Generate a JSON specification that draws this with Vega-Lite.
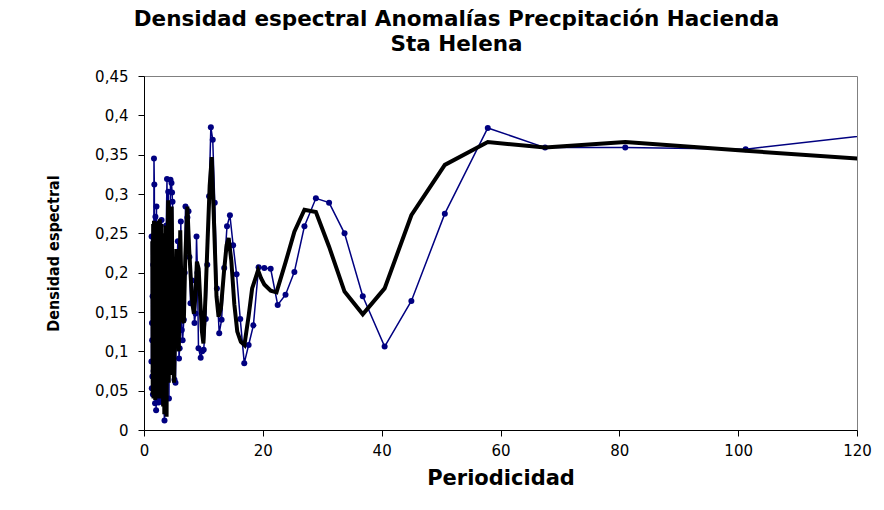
{
  "$schema": "https://vega.github.io/schema/vega-lite/v6.json",
  "width": 713,
  "height": 354,
  "autosize": {"type": "none"},
  "padding": {"left": 144, "top": 76, "right": 27, "bottom": 80},
  "background": "white",
  "title": {
    "text": ["Densidad espectral Anomalías Precpitación Hacienda", "Sta Helena"],
    "font": "DejaVu Sans",
    "fontSize": 21.5,
    "fontWeight": "bold",
    "color": "black",
    "anchor": "middle",
    "frame": "group",
    "dx": -44,
    "offset": 14,
    "lineHeight": 25
  },
  "config": {
    "view": {"stroke": "#808080", "strokeWidth": 1},
    "axis": {
      "grid": false,
      "domainColor": "black",
      "tickColor": "black",
      "labelColor": "black",
      "titleColor": "black",
      "labelFont": "DejaVu Sans",
      "labelFontSize": 15,
      "titleFont": "DejaVu Sans",
      "tickSize": 6,
      "domainWidth": 1,
      "labelFlush": false,
      "labelOverlap": false
    }
  },
  "datasets": {
    "espectro": [
      {"periodicidad": 1.25, "densidad": 0.087},
      {"periodicidad": 1.28, "densidad": 0.246},
      {"periodicidad": 1.31, "densidad": 0.053},
      {"periodicidad": 1.34, "densidad": 0.136},
      {"periodicidad": 1.37, "densidad": 0.114},
      {"periodicidad": 1.41, "densidad": 0.068},
      {"periodicidad": 1.45, "densidad": 0.17},
      {"periodicidad": 1.5, "densidad": 0.045},
      {"periodicidad": 1.56, "densidad": 0.21},
      {"periodicidad": 1.62, "densidad": 0.075},
      {"periodicidad": 1.68, "densidad": 0.345},
      {"periodicidad": 1.74, "densidad": 0.312},
      {"periodicidad": 1.8, "densidad": 0.12},
      {"periodicidad": 1.86, "densidad": 0.034},
      {"periodicidad": 1.92, "densidad": 0.271},
      {"periodicidad": 1.98, "densidad": 0.06},
      {"periodicidad": 2.04, "densidad": 0.025},
      {"periodicidad": 2.1, "densidad": 0.284},
      {"periodicidad": 2.17, "densidad": 0.05},
      {"periodicidad": 2.24, "densidad": 0.225},
      {"periodicidad": 2.31, "densidad": 0.04},
      {"periodicidad": 2.38, "densidad": 0.19},
      {"periodicidad": 2.46, "densidad": 0.035},
      {"periodicidad": 2.54, "densidad": 0.24},
      {"periodicidad": 2.62, "densidad": 0.05},
      {"periodicidad": 2.7, "densidad": 0.21},
      {"periodicidad": 2.78, "densidad": 0.04},
      {"periodicidad": 2.87, "densidad": 0.18},
      {"periodicidad": 2.96, "densidad": 0.267},
      {"periodicidad": 3.06, "densidad": 0.045},
      {"periodicidad": 3.18, "densidad": 0.2},
      {"periodicidad": 3.3, "densidad": 0.035},
      {"periodicidad": 3.45, "densidad": 0.012},
      {"periodicidad": 3.6, "densidad": 0.15},
      {"periodicidad": 3.75, "densidad": 0.26},
      {"periodicidad": 3.87, "densidad": 0.319},
      {"periodicidad": 3.98, "densidad": 0.08},
      {"periodicidad": 4.08, "densidad": 0.303},
      {"periodicidad": 4.2, "densidad": 0.04},
      {"periodicidad": 4.32, "densidad": 0.2},
      {"periodicidad": 4.46, "densidad": 0.318},
      {"periodicidad": 4.63, "densidad": 0.314},
      {"periodicidad": 4.72, "densidad": 0.302},
      {"periodicidad": 4.8, "densidad": 0.29},
      {"periodicidad": 4.95, "densidad": 0.12},
      {"periodicidad": 5.13, "densidad": 0.064},
      {"periodicidad": 5.3, "densidad": 0.06},
      {"periodicidad": 5.5, "densidad": 0.2},
      {"periodicidad": 5.7, "densidad": 0.24},
      {"periodicidad": 5.89, "densidad": 0.091},
      {"periodicidad": 6.0, "densidad": 0.104},
      {"periodicidad": 6.2, "densidad": 0.265},
      {"periodicidad": 6.36, "densidad": 0.127},
      {"periodicidad": 6.5, "densidad": 0.114},
      {"periodicidad": 6.7, "densidad": 0.14},
      {"periodicidad": 6.85, "densidad": 0.2},
      {"periodicidad": 6.98, "densidad": 0.284},
      {"periodicidad": 7.3, "densidad": 0.27},
      {"periodicidad": 7.49, "densidad": 0.278},
      {"periodicidad": 7.65, "densidad": 0.22},
      {"periodicidad": 7.83, "densidad": 0.161},
      {"periodicidad": 8.1, "densidad": 0.19},
      {"periodicidad": 8.3, "densidad": 0.17},
      {"periodicidad": 8.5, "densidad": 0.136},
      {"periodicidad": 8.67, "densidad": 0.148},
      {"periodicidad": 8.84, "densidad": 0.246},
      {"periodicidad": 9.0, "densidad": 0.2},
      {"periodicidad": 9.17, "densidad": 0.104},
      {"periodicidad": 9.54, "densidad": 0.092},
      {"periodicidad": 9.8, "densidad": 0.1},
      {"periodicidad": 10.05, "densidad": 0.102},
      {"periodicidad": 10.4, "densidad": 0.141},
      {"periodicidad": 10.65, "densidad": 0.21},
      {"periodicidad": 10.95, "densidad": 0.297},
      {"periodicidad": 11.25, "densidad": 0.385},
      {"periodicidad": 11.57, "densidad": 0.369},
      {"periodicidad": 11.91, "densidad": 0.289},
      {"periodicidad": 12.27, "densidad": 0.18},
      {"periodicidad": 12.66, "densidad": 0.123},
      {"periodicidad": 13.06, "densidad": 0.14},
      {"periodicidad": 13.5, "densidad": 0.206},
      {"periodicidad": 13.97, "densidad": 0.259},
      {"periodicidad": 14.46, "densidad": 0.273},
      {"periodicidad": 15.0, "densidad": 0.235},
      {"periodicidad": 15.58, "densidad": 0.198},
      {"periodicidad": 16.2, "densidad": 0.141},
      {"periodicidad": 16.875, "densidad": 0.085},
      {"periodicidad": 17.61, "densidad": 0.108},
      {"periodicidad": 18.41, "densidad": 0.133},
      {"periodicidad": 19.29, "densidad": 0.207},
      {"periodicidad": 20.25, "densidad": 0.206},
      {"periodicidad": 21.32, "densidad": 0.205},
      {"periodicidad": 22.5, "densidad": 0.159},
      {"periodicidad": 23.82, "densidad": 0.172},
      {"periodicidad": 25.31, "densidad": 0.201},
      {"periodicidad": 27.0, "densidad": 0.259},
      {"periodicidad": 28.93, "densidad": 0.2945},
      {"periodicidad": 31.15, "densidad": 0.289},
      {"periodicidad": 33.75, "densidad": 0.25},
      {"periodicidad": 36.82, "densidad": 0.17},
      {"periodicidad": 40.5, "densidad": 0.106},
      {"periodicidad": 45.0, "densidad": 0.164},
      {"periodicidad": 50.63, "densidad": 0.275},
      {"periodicidad": 57.86, "densidad": 0.384},
      {"periodicidad": 67.5, "densidad": 0.359},
      {"periodicidad": 81.0, "densidad": 0.359},
      {"periodicidad": 101.25, "densidad": 0.357},
      {"periodicidad": 135.0, "densidad": 0.386}
    ],
    "suavizado": [
      {"periodicidad": 1.4, "densidad": 0.24},
      {"periodicidad": 1.47, "densidad": 0.045},
      {"periodicidad": 1.54, "densidad": 0.262},
      {"periodicidad": 1.61, "densidad": 0.04},
      {"periodicidad": 1.68, "densidad": 0.266},
      {"periodicidad": 1.75, "densidad": 0.045},
      {"periodicidad": 1.82, "densidad": 0.26},
      {"periodicidad": 1.89, "densidad": 0.038},
      {"periodicidad": 1.96, "densidad": 0.25},
      {"periodicidad": 2.03, "densidad": 0.05},
      {"periodicidad": 2.1, "densidad": 0.265},
      {"periodicidad": 2.17, "densidad": 0.04},
      {"periodicidad": 2.24, "densidad": 0.262},
      {"periodicidad": 2.31, "densidad": 0.045},
      {"periodicidad": 2.38, "densidad": 0.258},
      {"periodicidad": 2.45, "densidad": 0.04},
      {"periodicidad": 2.52, "densidad": 0.266},
      {"periodicidad": 2.59, "densidad": 0.05},
      {"periodicidad": 2.66, "densidad": 0.268},
      {"periodicidad": 2.73, "densidad": 0.045},
      {"periodicidad": 2.8, "densidad": 0.255},
      {"periodicidad": 2.88, "densidad": 0.04},
      {"periodicidad": 2.96, "densidad": 0.262},
      {"periodicidad": 3.04, "densidad": 0.05},
      {"periodicidad": 3.12, "densidad": 0.25},
      {"periodicidad": 3.22, "densidad": 0.03},
      {"periodicidad": 3.32, "densidad": 0.24},
      {"periodicidad": 3.42, "densidad": 0.02},
      {"periodicidad": 3.55, "densidad": 0.15},
      {"periodicidad": 3.68, "densidad": 0.26},
      {"periodicidad": 3.8, "densidad": 0.017},
      {"periodicidad": 3.92, "densidad": 0.2},
      {"periodicidad": 4.07, "densidad": 0.292},
      {"periodicidad": 4.17, "densidad": 0.06},
      {"periodicidad": 4.27, "densidad": 0.27},
      {"periodicidad": 4.37, "densidad": 0.07},
      {"periodicidad": 4.47, "densidad": 0.25},
      {"periodicidad": 4.57, "densidad": 0.1},
      {"periodicidad": 4.66, "densidad": 0.284},
      {"periodicidad": 4.78, "densidad": 0.2},
      {"periodicidad": 4.9, "densidad": 0.1},
      {"periodicidad": 5.05, "densidad": 0.06},
      {"periodicidad": 5.25, "densidad": 0.14},
      {"periodicidad": 5.45, "densidad": 0.23},
      {"periodicidad": 5.65, "densidad": 0.16},
      {"periodicidad": 5.85, "densidad": 0.1},
      {"periodicidad": 6.1, "densidad": 0.254},
      {"periodicidad": 6.3, "densidad": 0.18},
      {"periodicidad": 6.5, "densidad": 0.14},
      {"periodicidad": 6.7, "densidad": 0.136},
      {"periodicidad": 6.95, "densidad": 0.22},
      {"periodicidad": 7.3, "densidad": 0.284},
      {"periodicidad": 7.6, "densidad": 0.23},
      {"periodicidad": 7.9, "densidad": 0.19},
      {"periodicidad": 8.15, "densidad": 0.16},
      {"periodicidad": 8.4, "densidad": 0.148},
      {"periodicidad": 8.65, "densidad": 0.17},
      {"periodicidad": 8.9, "densidad": 0.214},
      {"periodicidad": 9.2, "densidad": 0.205},
      {"periodicidad": 9.5, "densidad": 0.16},
      {"periodicidad": 9.75, "densidad": 0.125},
      {"periodicidad": 10.0, "densidad": 0.11},
      {"periodicidad": 10.35, "densidad": 0.17},
      {"periodicidad": 10.7, "densidad": 0.24},
      {"periodicidad": 11.05, "densidad": 0.31},
      {"periodicidad": 11.4, "densidad": 0.347},
      {"periodicidad": 11.8, "densidad": 0.26},
      {"periodicidad": 12.2, "densidad": 0.17},
      {"periodicidad": 12.55, "densidad": 0.144},
      {"periodicidad": 12.95, "densidad": 0.155},
      {"periodicidad": 13.45, "densidad": 0.2},
      {"periodicidad": 13.9, "densidad": 0.235},
      {"periodicidad": 14.25, "densidad": 0.244},
      {"periodicidad": 14.7, "densidad": 0.215},
      {"periodicidad": 15.2, "densidad": 0.16},
      {"periodicidad": 15.7, "densidad": 0.125},
      {"periodicidad": 16.3, "densidad": 0.112},
      {"periodicidad": 16.9, "densidad": 0.108},
      {"periodicidad": 17.61, "densidad": 0.145},
      {"periodicidad": 18.2, "densidad": 0.18},
      {"periodicidad": 19.2, "densidad": 0.203},
      {"periodicidad": 19.7, "densidad": 0.193},
      {"periodicidad": 20.25, "densidad": 0.185},
      {"periodicidad": 21.32, "densidad": 0.177},
      {"periodicidad": 22.3, "densidad": 0.175},
      {"periodicidad": 23.82, "densidad": 0.213},
      {"periodicidad": 25.31, "densidad": 0.252},
      {"periodicidad": 27.0, "densidad": 0.28},
      {"periodicidad": 28.93, "densidad": 0.277},
      {"periodicidad": 31.15, "densidad": 0.233},
      {"periodicidad": 33.75, "densidad": 0.176},
      {"periodicidad": 36.82, "densidad": 0.147},
      {"periodicidad": 40.5, "densidad": 0.18},
      {"periodicidad": 45.0, "densidad": 0.273},
      {"periodicidad": 50.63, "densidad": 0.337},
      {"periodicidad": 57.86, "densidad": 0.366},
      {"periodicidad": 67.5, "densidad": 0.359},
      {"periodicidad": 81.0, "densidad": 0.366},
      {"periodicidad": 101.25, "densidad": 0.355},
      {"periodicidad": 135.0, "densidad": 0.337}
    ]
  },
  "encoding": {
    "x": {
      "field": "periodicidad",
      "type": "quantitative",
      "scale": {"domain": [0, 120], "nice": false},
      "axis": {
        "values": [0, 20, 40, 60, 80, 100, 120],
        "title": "Periodicidad",
        "titleFontSize": 21,
        "titleFontWeight": "bold",
        "labelPadding": 7,
        "titlePadding": 9
      }
    },
    "y": {
      "field": "densidad",
      "type": "quantitative",
      "scale": {"domain": [0, 0.45], "nice": false},
      "axis": {
        "values": [0, 0.05, 0.1, 0.15, 0.2, 0.25, 0.3, 0.35, 0.4, 0.45],
        "labelExpr": "replace(toString(round(datum.value * 100) / 100), '.', ',')",
        "labelPadding": 10,
        "title": "Densidad espectral",
        "titleFont": "DejaVu Sans Condensed, Liberation Sans Narrow, DejaVu Sans",
        "titleFontSize": 16,
        "titleFontWeight": "bold",
        "titleX": -91,
        "titleY": 177,
        "titleAngle": -90,
        "titleAlign": "center",
        "titleBaseline": "middle"
      }
    }
  },
  "layer": [
    {
      "data": {"name": "espectro"},
      "mark": {"type": "line", "color": "#000080", "strokeWidth": 1.5, "clip": true}
    },
    {
      "data": {"name": "espectro"},
      "mark": {"type": "point", "filled": true, "color": "#000080", "opacity": 1, "size": 36, "clip": true}
    },
    {
      "data": {"name": "suavizado"},
      "mark": {"type": "line", "color": "black", "strokeWidth": 4, "clip": true}
    }
  ]
}
